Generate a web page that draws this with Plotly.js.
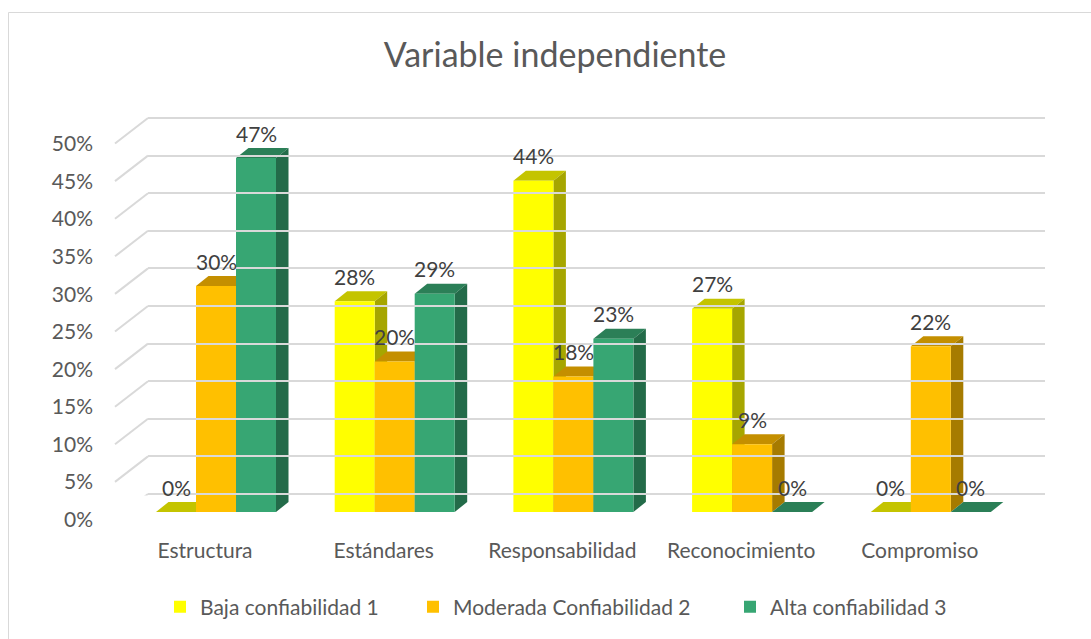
<!DOCTYPE html>
<html><head><meta charset="utf-8">
<script src="https://cdn.plot.ly/plotly-3.0.1.min.js"></script>
<style>html,body{margin:0;padding:0;background:#fff}#chart{width:1091px;height:639px}</style>
</head><body><div id="chart"></div>
<script>
// ---- data ----
const categories = ['Estructura', 'Estándares', 'Responsabilidad', 'Reconocimiento', 'Compromiso'];
const seriesNames = ['Baja confiabilidad 1', 'Moderada Confiabilidad 2', 'Alta confiabilidad 3'];
const baja = [0, 28, 44, 27, 0];
const moderada = [30, 20, 18, 9, 22];
const alta = [47, 29, 23, 0, 0];
const yTickVals = [0, 5, 10, 15, 20, 25, 30, 35, 40, 45, 50];
const yTickText = ['0%', '5%', '10%', '15%', '20%', '25%', '30%', '35%', '40%', '45%', '50%'];
const titleText = 'Variable independiente';

// ---- styling / geometry ----
const W = 1091, H = 639;
const FONT = 'Lato, "Open Sans", sans-serif';
const frontColors = ['#FFFF00', '#FFC000', '#37A673'];
const topColors = ['#C4C400', '#C48F00', '#2B7F57'];
const sideColors = ['#A6A600', '#A67B00', '#236B49'];
const gridColor = '#D9D9D9';
const X0 = 216, CAT = 178.7, BARW = 40;     // px: group centre of first category, category pitch, bar width
const Y0 = 512, KY = 7.53;                  // px: bar base, px per percent
const DX = 12.5, DY = 10;                   // bar depth offset
const FRONT0 = 519.5, FRONTK = 7.51;        // front plane (axis labels)
const BACK0 = 494, BACKK = 7.52;            // back wall
const BACKL = 148, BACKR = 1045, FRONTL = 115;

function ydom(p0, k, r0, r1) {
  const pb = p0 - r0 * k, pt = p0 - r1 * k;
  return [(H - pb) / H, (H - pt) / H];
}
const bargap = 1 - 3 * BARW / CAT;
const barUnit = BARW / CAT;
const series = [baja, moderada, alta];

const traces = series.map((vals, k) => ({
  type: 'bar', name: seriesNames[k], x: categories.map((c, i) => i), y: vals,
  marker: {color: frontColors[k], line: {width: 0}},
  hoverinfo: 'skip', legend: k === 0 ? 'legend' : 'legend' + (k + 1),
  xaxis: 'x', yaxis: 'y'
}));
traces.push({type: 'scatter', x: [], y: [], xaxis: 'x', yaxis: 'y2', showlegend: false, hoverinfo: 'skip'});
traces.push({type: 'scatter', x: [], y: [], xaxis: 'x3', yaxis: 'y3', showlegend: false, hoverinfo: 'skip'});

const shapes = [];
// chart border
shapes.push({type: 'rect', xref: 'paper', yref: 'paper', x0: 8.5 / W, x1: 1.05, y0: -0.05, y1: (H - 12.5) / H,
  line: {color: '#D9D9D9', width: 1}, layer: 'below'});
// side wall diagonals
yTickVals.forEach(v => {
  shapes.push({type: 'line', xref: 'paper', yref: 'y3', x0: BACKL / W, x1: FRONTL / W,
    ysizemode: 'pixel', yanchor: v, y0: 0, y1: -(FRONT0 - BACK0),
    line: {color: gridColor, width: 2}, layer: 'below'});
});
// 3D faces of the bars
categories.forEach((c, i) => {
  series.forEach((vals, k) => {
    const v = vals[i];
    const h = v * KY, hw = BARW / 2;
    const xa = i + (k - 1) * barUnit;
    shapes.push({type: 'path', xref: 'x', yref: 'y', xsizemode: 'pixel', ysizemode: 'pixel',
      xanchor: xa, yanchor: v, layer: 'between',
      path: `M ${-hw} 0 L ${hw} 0 L ${hw + DX} ${DY} L ${-hw + DX} ${DY} Z`,
      fillcolor: topColors[k], line: {width: 0}});
    if (h > 0) {
      shapes.push({type: 'path', xref: 'x', yref: 'y', xsizemode: 'pixel', ysizemode: 'pixel',
        xanchor: xa, yanchor: v, layer: 'between',
        path: `M ${hw} 0 L ${hw + DX} ${DY} L ${hw + DX} ${DY - h} L ${hw} ${-h} Z`,
        fillcolor: sideColors[k], line: {width: 0}});
    }
  });
});

const annotations = [];
categories.forEach((c, i) => {
  series.forEach((vals, k) => {
    annotations.push({xref: 'x', yref: 'y', x: i + (k - 1) * barUnit, y: vals[i], text: vals[i] + '%',
      showarrow: false, yanchor: 'middle', xanchor: 'center', yshift: 25,
      font: {family: FONT, size: 21, color: '#404040'}});
  });
});

const legendBase = {orientation: 'h', xanchor: 'left', yanchor: 'middle', y: (H - 607) / H,
  font: {family: FONT, size: 21, color: '#595959'}, bgcolor: 'rgba(0,0,0,0)'};

const layout = {
  width: W, height: H, margin: {l: 0, r: 0, t: 0, b: 0},
  paper_bgcolor: '#FFFFFF', plot_bgcolor: 'rgba(0,0,0,0)',
  title: {text: titleText, x: 555 / W, xanchor: 'center', y: (H - 55) / H, yanchor: 'middle', xref: 'paper', yref: 'paper',
    font: {family: FONT, size: 34, color: '#595959'}},
  barmode: 'group', bargap: bargap, bargroupgap: 0,
  xaxis: {domain: [(X0 - CAT / 2) / W, (X0 + 4.5 * CAT) / W], range: [-0.5, 4.5], anchor: 'y',
    tickvals: categories.map((c, i) => i), ticktext: categories, ticks: '', showgrid: false, zeroline: false,
    showline: false, ticklabelshift: -11, ticklabelstandoff: 24, automargin: false, fixedrange: true,
    tickfont: {family: FONT, size: 21, color: '#595959'}},
  yaxis: {domain: ydom(Y0, KY, 0, 50), range: [0, 50], anchor: 'x', visible: false, showgrid: false, zeroline: false, fixedrange: true},
  yaxis2: {domain: ydom(FRONT0, FRONTK, 0, 50), range: [0, 50], anchor: 'free', position: 93 / W, side: 'left',
    tickvals: yTickVals, ticktext: yTickText, ticks: '', showgrid: false, zeroline: false, showline: false,
    automargin: false, fixedrange: true, tickfont: {family: FONT, size: 21, color: '#595959'}},
  xaxis3: {domain: [BACKL / W, BACKR / W], range: [0, 1], anchor: 'y3', visible: false, showgrid: false, zeroline: false, fixedrange: true},
  yaxis3: {domain: ydom(BACK0, BACKK, -0.2, 50.2), range: [-0.2, 50.2], anchor: 'x3', tickvals: yTickVals,
    showticklabels: false, ticks: '', showgrid: true, gridcolor: gridColor, gridwidth: 2, zeroline: false,
    showline: false, automargin: false, fixedrange: true},
  legend: Object.assign({}, legendBase, {x: 160 / W}),
  legend2: Object.assign({}, legendBase, {x: 413 / W}),
  legend3: Object.assign({}, legendBase, {x: 730 / W}),
  shapes: shapes, annotations: annotations, showlegend: true
};

Plotly.newPlot('chart', traces, layout, {displayModeBar: false, staticPlot: true});
</script>
</body></html>
